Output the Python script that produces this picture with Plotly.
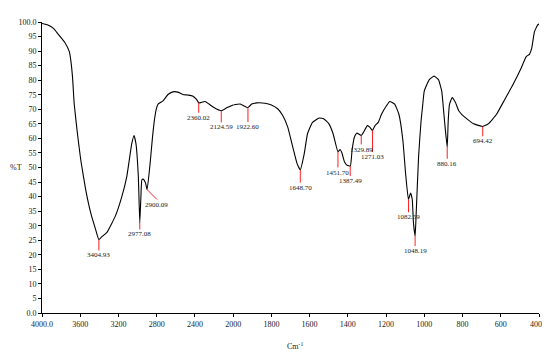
import plotly.graph_objects as go

# ---- spectrum (wavenumber, %T) ----
wavenumber = [4000, 3938, 3880, 3835, 3766, 3714, 3697, 3680, 3663, 3629, 3594, 3543,
              3491, 3440, 3405, 3370, 3319, 3233, 3164, 3113, 3061, 3037, 3017, 2992,
              2977, 2965, 2955, 2940, 2917, 2900, 2870, 2845, 2825, 2805, 2786, 2734,
              2682, 2631, 2579, 2528, 2476, 2425, 2383, 2360, 2339, 2294, 2253, 2201,
              2125, 2063, 2000, 1963, 1923, 1903, 1877, 1834, 1800, 1766, 1740, 1714,
              1688, 1666, 1649, 1628, 1611, 1585, 1550, 1525, 1499, 1477, 1452, 1440,
              1430, 1418, 1404, 1387, 1378, 1366, 1353, 1330, 1318, 1298, 1284, 1271,
              1258, 1241, 1224, 1198, 1181, 1155, 1133, 1112, 1098, 1083, 1072, 1063,
              1057, 1048, 1043, 1030, 1017, 1009, 1000, 974, 949, 926, 909, 899, 890,
              880, 875, 868, 854, 837, 820, 802, 777, 742, 694, 665, 622, 579, 536,
              493, 467, 450, 438, 424, 407, 400]
transmittance = [99.5, 99.0, 97.8, 96.0, 93.2, 89.8, 86.4, 80.8, 71.8, 61.6, 52.5, 42.4,
                 34.5, 28.8, 25.2, 26.3, 27.8, 33.3, 40.1, 46.9, 58.2, 61.0, 58.2, 46.9,
                 31.0, 40.0, 45.8, 46.0, 44.7, 42.4, 51.0, 60.0, 66.0, 70.0, 71.8, 72.9,
                 75.1, 76.0, 75.9, 75.1, 74.9, 74.6, 73.4, 72.2, 72.3, 72.7, 71.8, 70.6,
                 69.5, 70.6, 71.5, 71.8, 70.6, 71.8, 72.2, 72.1, 71.5, 70.1, 67.8, 63.8,
                 57.0, 51.4, 49.2, 54.8, 61.6, 65.5, 67.0, 66.7, 65.0, 61.6, 55.4, 56.2,
                 54.8, 52.0, 50.8, 50.5, 55.9, 60.4, 61.8, 61.0, 62.1, 64.4, 63.8, 62.7,
                 64.4, 65.5, 68.3, 71.2, 72.7, 71.8, 68.3, 59.3, 48.0, 39.0, 41.2, 39.0,
                 31.1, 26.4, 33.3, 53.7, 66.0, 71.0, 76.3, 80.2, 81.4, 80.2, 76.3, 69.5, 63.0,
                 57.0, 66.0, 71.8, 74.0, 72.3, 69.5, 68.1, 66.7, 65.0, 64.1, 65.0, 68.3, 73.4, 78.5,
                 84.2, 88.1, 88.9, 91.0, 96.6, 99.0, 99.3]

# ---- labelled peaks ----
peak_wn = [3404.93, 2977.08, 2900.09, 2360.02, 2124.59, 1922.60, 1648.70, 1451.70,
           1387.49, 1329.89, 1271.03, 1082.59, 1048.19, 880.16, 694.42]
peak_T = [25.2, 31.0, 42.4, 72.2, 69.5, 70.6, 49.2, 55.4, 50.5, 61.0, 62.7, 39.0, 26.4, 57.0, 64.1]
peak_labels = ["3404.93", "2977.08", "2900.09", "2360.02", "2124.59", "1922.60", "1648.70",
               "1451.70", "1387.49", "1329.89", "1271.03", "1082.59", "1048.19", "880.16", "694.42"]

# ---- ticks ----
x_ticks_hi = [4000, 3600, 3200, 2800, 2400, 2000]
x_ticklabels_hi = ["4000.0", "3600", "3200", "2800", "2400", "2000"]
x_ticks_lo = [1800, 1600, 1400, 1200, 1000, 800, 600, 400]
x_ticklabels_lo = ["1800", "1600", "1400", "1200", "1000", "800", "600", "400.0"]
y_ticks = list(range(0, 101, 5))
y_ticklabels = ["0.0"] + [str(v) for v in range(5, 100, 5)] + ["100.0"]

# style: red marker lengths (in %T units)
marker_len = [3.7, 2.3, 0, 3.4, 4.0, 5.0, 4.4, 5.4, 3.4, 3.1, 7.4, 4.4, 3.4, 4.0, 3.4]

FONT = "Liberation Serif, Times New Roman, serif"
fig = go.Figure()

hi_x = [w for w in wavenumber if w >= 2000]
hi_y = [t for w, t in zip(wavenumber, transmittance) if w >= 2000]
lo_x = [w for w in wavenumber if w <= 2000]
lo_y = [t for w, t in zip(wavenumber, transmittance) if w <= 2000]

line_style = dict(color="black", width=1.1, shape="spline", smoothing=0.4)
fig.add_trace(go.Scatter(x=hi_x, y=hi_y, mode="lines", line=line_style, xaxis="x", yaxis="y",
                         hoverinfo="skip", showlegend=False))
fig.add_trace(go.Scatter(x=lo_x, y=lo_y, mode="lines", line=line_style, xaxis="x2", yaxis="y",
                         hoverinfo="skip", showlegend=False))

annotations = []
for w, t, lab, ln in zip(peak_wn, peak_T, peak_labels, marker_len):
    ax = "x" if w > 2000 else "x2"
    if lab == "2900.09":
        x_end, y_end = w - 103, t - 3.4
    else:
        x_end, y_end = w, t - ln
    fig.add_trace(go.Scatter(x=[w, x_end], y=[t, y_end], mode="lines",
                             line=dict(color="#ff2020", width=1), xaxis=ax, yaxis="y",
                             hoverinfo="skip", showlegend=False))
    annotations.append(dict(x=x_end, y=y_end, xref=ax, yref="y", text=lab, showarrow=False,
                            xanchor="center", yanchor="top", borderpad=0,
                            font=dict(family=FONT, size=7, color="#222")))

annotations.append(dict(x=-0.052, y=0.5, xref="paper", yref="paper", text="%T",
                        showarrow=False, xanchor="center", yanchor="middle",
                        font=dict(family=FONT, size=8, color="#222")))
annotations.append(dict(x=0.51, y=-0.115, xref="paper", yref="paper", text="Cm<sup>-1</sup>",
                        showarrow=False, xanchor="center", yanchor="middle",
                        font=dict(family=FONT, size=8, color="#222")))

axis_common = dict(showgrid=False, zeroline=False, showline=True, linecolor="black",
                   linewidth=1, ticks="outside", ticklen=3, tickcolor="black",
                   tickfont=dict(family=FONT, size=8, color="#222"))

fig.update_layout(
    width=550, height=353,
    margin=dict(l=34, r=13, t=10, b=48),
    paper_bgcolor="white", plot_bgcolor="white",
    showlegend=False,
    font=dict(family=FONT),
    xaxis=dict(domain=[0, 5 / 13], range=[4000, 2000], tickmode="array",
               tickvals=x_ticks_hi, ticktext=x_ticklabels_hi, anchor="y", **axis_common),
    xaxis2=dict(domain=[5 / 13, 1], range=[2000, 400], tickmode="array",
                tickvals=x_ticks_lo, ticktext=x_ticklabels_lo, anchor="y", **axis_common),
    yaxis=dict(range=[0, 100], tickmode="array", tickvals=y_ticks, ticktext=y_ticklabels,
               anchor="x", **axis_common),
    annotations=annotations,
)

fig.write_html("out.html")
